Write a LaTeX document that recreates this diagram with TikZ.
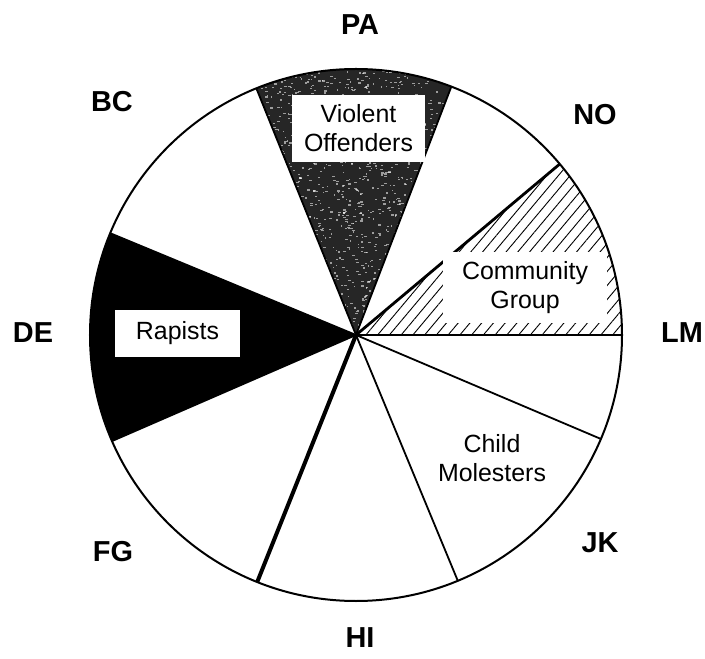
\documentclass[tikz,border=0pt]{standalone}
\usepackage{fontspec}
\setmainfont{Liberation Sans}
\usetikzlibrary{patterns.meta}
\begin{document}
\begin{tikzpicture}[x=1bp,y=1bp,
  rim/.style={line width=2bp},
  spoke/.style={line width=1.8bp},
  region/.style={font=\bfseries\fontsize{29}{29}\selectfont, inner sep=0pt},
  tag/.style={fill=white, align=center, font=\fontsize{25}{29}\selectfont, inner sep=0pt},
]
\def\R{266}
\useasboundingbox (-356,-324) rectangle (349,335);

% Rapists: solid black wedge
\fill[black] (0,0) -- (157.5:\R) arc[start angle=157.5, end angle=203.5, radius=\R] -- cycle;

% Violent offenders: dark speckled wedge
\fill[black!85] (0,0) -- (69:\R) arc[start angle=69, end angle=112, radius=\R] -- cycle;
\begin{scope}
  \clip (0,0) -- (69:\R) arc[start angle=69, end angle=112, radius=\R] -- cycle;
  \pgfmathsetseed{7}
  \foreach \i in {1,...,1600} {
    \pgfmathsetmacro\px{rnd*220-110}
    \pgfmathsetmacro\py{rnd*272}
    \pgfmathsetmacro\pw{1+rnd*2.2}
    \fill[white, opacity=0.55] (\px,\py) rectangle ++(\pw,1.3);
  }
\end{scope}

% Community group: hatched wedge
\fill[pattern={Lines[angle=50, distance=9bp, line width=0.9bp]}]
  (0,0) -- (0:\R) arc[start angle=0, end angle=40, radius=\R] -- cycle;

% spokes
\foreach \a in {112, 69, 0, -23, -67.5, 203.5, 157.5}
  \draw[spoke] (0,0) -- (\a:\R);
\draw[line width=2.8bp] (0,0) -- (40:\R);
\draw[line width=4bp] (0,0) -- (248.2:\R);

% outline
\draw[rim] (0,0) circle[radius=\R];

% wedge captions
\node[tag, minimum width=133bp, minimum height=67bp] (violent) at (2.5,206.5) {Violent\\Offenders};
\node[tag, minimum width=164bp, minimum height=71bp] (community) at (169,47.5) {Community\\Group};
\node[tag, minimum width=125bp, minimum height=47bp] (rapists) at (-178.5,1.5) {Rapists};
\node[tag, fill=none] (child) at (136,-123) {Child\\Molesters};

% region codes
\node[region] (pa) at (4,310) {PA};
\node[region] (bc) at (-244,233) {BC};
\node[region] (no) at (239,220) {NO};
\node[region] (de) at (-323,2) {DE};
\node[region] (lm) at (326,2) {LM};
\node[region] (fg) at (-243,-217) {FG};
\node[region] (jk) at (244,-208) {JK};
\node[region] (hi) at (4,-303) {HI};
\end{tikzpicture}
\end{document}
